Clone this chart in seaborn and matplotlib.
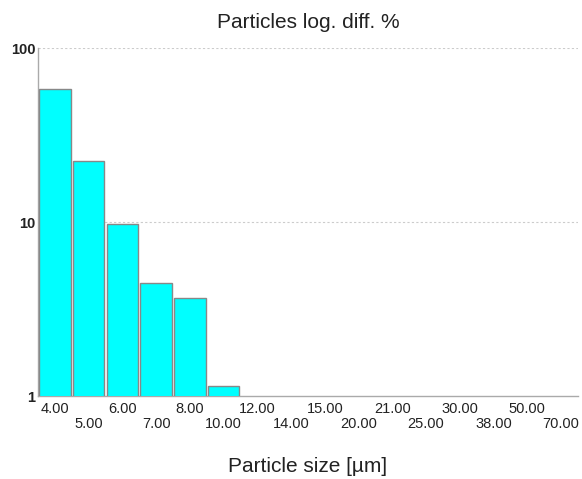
import matplotlib
matplotlib.use("Agg")
import matplotlib.pyplot as plt
import seaborn as sns
import numpy as np
import pandas as pd

sizes = ["4.00", "5.00", "6.00", "7.00", "8.00", "10.00", "12.00", "14.00",
         "15.00", "20.00", "21.00", "25.00", "30.00", "38.00", "50.00", "70.00"]
values = [58.0, 22.5, 9.75, 4.45, 3.67, 1.14, np.nan, np.nan,
          np.nan, np.nan, np.nan, np.nan, np.nan, np.nan, np.nan, np.nan]

df = pd.DataFrame({"size": sizes, "pct": values})

sns.set_style("white")
plt.rcParams['font.family'] = ['Liberation Sans', 'DejaVu Sans']

fig = plt.figure(figsize=(5.82, 4.79), dpi=100)
ax = fig.add_axes([38/582, 1-396/479, 540/582, 348/479])
ax.set_yscale("log")

sns.barplot(data=df, x="size", y="pct", order=sizes, color="#00ffff",
            saturation=1, edgecolor="#888888", linewidth=1.0, width=0.93,
            ax=ax, zorder=3)

ax.set_ylim(1, 100)
ax.set_xlim(-0.5, len(sizes) - 0.5)
ax.set_yticks([1, 10, 100])
ax.set_yticklabels(["1", "10", "100"], fontsize=10.5, fontweight="bold", color="#222222")
ax.yaxis.set_minor_locator(matplotlib.ticker.NullLocator())
ax.tick_params(axis="y", length=0, pad=2)

ax.set_xticks(range(len(sizes)))
ax.set_xticklabels([s if i % 2 == 0 else "\n" + s for i, s in enumerate(sizes)],
                   fontsize=10.5, color="#222222", linespacing=1.1)
ax.tick_params(axis="x", which="major", length=0, pad=4)
ax.set_xticks(np.arange(0.5, len(sizes), 1.0), minor=True)
ax.tick_params(axis="x", which="minor", length=4, direction="inout",
               color="#aaaaaa", width=1)

for y in [10, 100]:
    ax.axhline(y, color="#cccccc", linestyle=(0, (2, 2)), linewidth=0.8, zorder=1)

for s in ["top", "right"]:
    ax.spines[s].set_visible(False)
for s in ["left", "bottom"]:
    ax.spines[s].set_color("#aaaaaa")
    ax.spines[s].set_linewidth(1.0)

ax.set_ylabel("")
ax.set_xlabel("")
fig.text(308/582, 1-22/479, "Particles log. diff. %", ha="center", va="center",
         fontsize=15, color="#222222")
fig.text(308/582, 1-467/479, "Particle size [µm]", ha="center", va="center",
         fontsize=15, color="#222222")

fig.savefig("out.png", dpi=100)
